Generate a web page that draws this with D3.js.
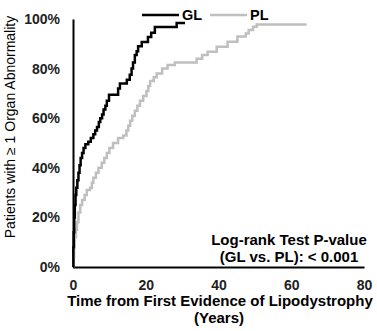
<!DOCTYPE html>
<html><head><meta charset="utf-8">
<script src="https://cdn.jsdelivr.net/npm/d3@7"></script>
<style>
html,body{margin:0;padding:0;background:#fff;}
text{font-family:"Liberation Sans",Arial,sans-serif;}
</style></head>
<body>
<svg id="c" width="377" height="331"></svg>
<script>
// ---- data ----
const xTicks = [0, 20, 40, 60, 80];
const yTicks = [0, 20, 40, 60, 80, 100];
const seriesNames = ["GL", "PL"];
const glTime = [0,0.1,0.2,0.35,0.5,0.7,0.9,1.2,1.5,1.8,2.1,2.5,2.9,3.4,4.2,4.9,5.6,6.1,6.6,7.1,7.5,8.0,8.4,8.9,9.3,9.9,12.4,12.9,14.8,15.6,16.1,16.5,17.0,17.5,17.9,18.9,20.6,21.5,22.5,28.5,30.8];
const glPct  = [0,8,14,20,25,29,32,35,38,41,44,46,48,49.5,50.5,52,53.5,55,56.5,58.5,60,61.5,63.5,65,67,69.5,72,74,75.5,77.5,80,82.5,85.5,87,89,90.7,92.7,94.5,96.8,98.4,98.4];
const plTime = [0,0.1,0.3,0.5,0.8,1.1,1.5,2.0,2.5,3.2,3.8,4.7,5.2,5.6,6.3,7.0,7.9,8.6,9.3,10.0,11.0,12.4,13.8,14.7,15.2,15.7,16.3,17.0,17.7,18.4,19.3,20.2,20.7,21.2,22.2,23.0,24.5,26.0,28.0,34.0,35.5,37.0,39.5,42.5,45.2,47.5,48.3,49.5,50.5,64.2];
const plPct  = [0,4,8,12,15,18,22,25,27,29,31,32,34,36,38,40,42,44,46,48,50,52,53,55,57,59,61,63,65,67,69,71,73,75,76.5,78,80,81.5,82.5,84,85.5,86.8,88.8,90.8,92.9,94.2,95.6,96.9,97.8,97.8];
const yTitle = "Patients with \u2265 1 Organ Abnormality";
const xTitle1 = "Time from First Evidence of Lipodystrophy";
const xTitle2 = "(Years)";
const note1 = "Log-rank Test P-value";
const note2 = "(GL vs. PL): < 0.001";

// ---- chart ----
const svg = d3.select("#c");
const x = d3.scaleLinear().domain([0, 80]).range([73, 364]);
const y = d3.scaleLinear().domain([0, 100]).range([267, 19]);

const yAxis = d3.axisLeft(y).tickValues(yTicks).tickSize(0).tickPadding(13)
  .tickFormat(d => d + "%");
const gy = svg.append("g").attr("transform", `translate(${x(0)},0)`).call(yAxis);
gy.select(".domain").attr("stroke", "#000").attr("stroke-width", 2);
gy.selectAll("text").attr("font-size", 14).attr("font-weight", "bold")
  .attr("font-family", "'Liberation Sans',Arial,sans-serif").attr("fill", "#222");

const xAxis = d3.axisBottom(x).tickValues(xTicks).tickSize(0).tickPadding(13);
const gx = svg.append("g").attr("transform", `translate(0,${y(0)})`).call(xAxis);
gx.select(".domain").attr("stroke", "#000").attr("stroke-width", 2);
gx.selectAll("text").attr("font-size", 14).attr("font-weight", "bold")
  .attr("font-family", "'Liberation Sans',Arial,sans-serif").attr("fill", "#222");

const line = d3.line().x(d => x(d[0])).y(d => y(d[1])).curve(d3.curveStepAfter);
const gl = glTime.map((t, i) => [t, glPct[i]]);
const pl = plTime.map((t, i) => [t, plPct[i]]);
const colors = ["#000000", "#bfbfbf"];

svg.append("path").datum(pl).attr("d", line).attr("fill", "none")
  .attr("stroke", colors[1]).attr("stroke-width", 2.5);
svg.append("path").datum(gl).attr("d", line).attr("fill", "none")
  .attr("stroke", colors[0]).attr("stroke-width", 2.5);

// legend
const legX = [142, 210];
seriesNames.forEach((n, i) => {
  svg.append("line").attr("x1", legX[i]).attr("x2", legX[i] + 37)
    .attr("y1", 15).attr("y2", 15).attr("stroke", colors[i]).attr("stroke-width", 2.5);
  svg.append("text").attr("x", legX[i] + 40).attr("y", 20).text(n)
    .attr("font-size", 14.5).attr("font-weight", "bold").attr("fill", "#000");
});

// titles
svg.append("text").attr("transform", "translate(15,127) rotate(-90)")
  .attr("text-anchor", "middle").attr("font-size", 14).attr("fill", "#000").text(yTitle);
svg.append("text").attr("x", 220).attr("y", 306).attr("text-anchor", "middle")
  .attr("font-size", 15).attr("font-weight", "bold").attr("fill", "#000").text(xTitle1);
svg.append("text").attr("x", 219).attr("y", 323).attr("text-anchor", "middle")
  .attr("font-size", 15).attr("font-weight", "bold").attr("fill", "#000").text(xTitle2);
svg.append("text").attr("x", 289).attr("y", 245).attr("text-anchor", "middle")
  .attr("font-size", 15).attr("font-weight", "bold").attr("fill", "#000").text(note1);
svg.append("text").attr("x", 289).attr("y", 262).attr("text-anchor", "middle")
  .attr("font-size", 15).attr("font-weight", "bold").attr("fill", "#000").text(note2);
</script>
</body></html>
